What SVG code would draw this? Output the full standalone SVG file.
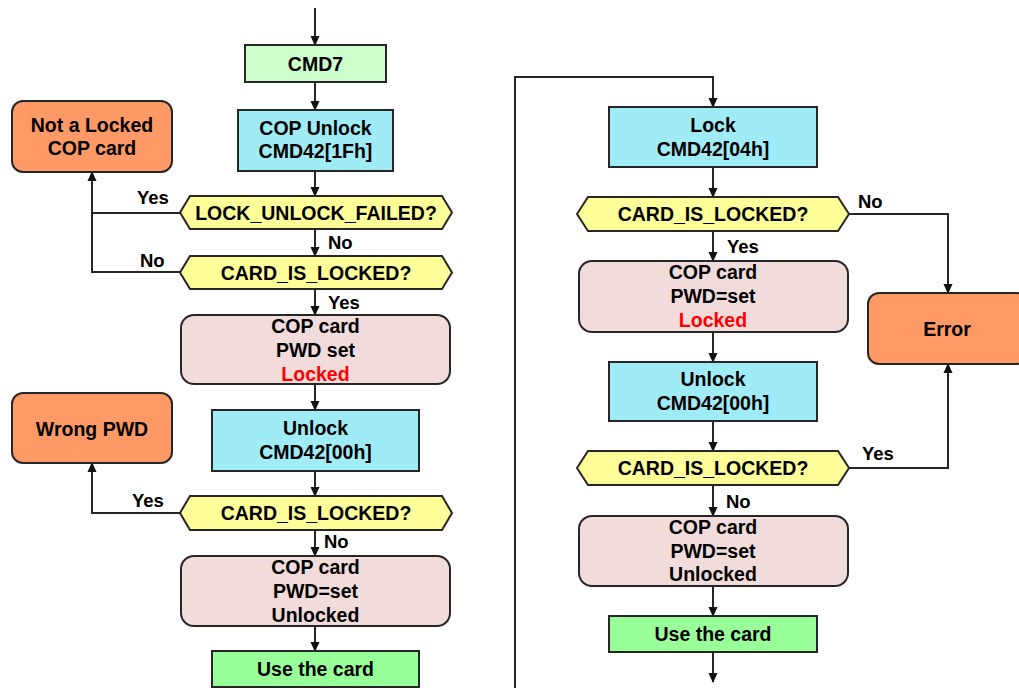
<svg xmlns="http://www.w3.org/2000/svg" width="1019" height="688" viewBox="0 0 1019 688">
<style>
text{font-family:"Liberation Sans",Arial,sans-serif;font-weight:bold;font-size:19.5px;fill:#000;text-anchor:middle}
.lbl{font-size:18.5px;text-anchor:start}
.box{stroke:#262626;stroke-width:2}
.cyan{fill:#a0ecf6}
.pink{fill:#f2dcdb}
.orange{fill:#ff9966}
.yellow{fill:#ffff99}
.green{fill:#99ff99}
.lgreen{fill:#ccffcc}
.red{fill:#ff0000}
.c{fill:none;stroke:#262626;stroke-width:2}
</style>
<defs>
<marker id="ah" markerWidth="10" markerHeight="10" refX="9" refY="5" orient="auto" markerUnits="userSpaceOnUse">
<path d="M0,0.5 L10,5 L0,9.5 Z" fill="#111"/>
</marker>
</defs>
<rect width="1019" height="688" fill="#fff"/>
<g id="connectors">
<path class="c" d="M315,8 V45" marker-end="url(#ah)"/>
<path class="c" d="M315,82 V110" marker-end="url(#ah)"/>
<path class="c" d="M315,171 V196" marker-end="url(#ah)"/>
<path class="c" d="M315,229 V256" marker-end="url(#ah)"/>
<path class="c" d="M315,289 V315" marker-end="url(#ah)"/>
<path class="c" d="M315,384 V410" marker-end="url(#ah)"/>
<path class="c" d="M315,471 V496" marker-end="url(#ah)"/>
<path class="c" d="M315,530 V556" marker-end="url(#ah)"/>
<path class="c" d="M315,626 V651" marker-end="url(#ah)"/>
<path class="c" d="M180,213 H92 V172" marker-end="url(#ah)"/>
<path class="c" d="M180,272 H92 V213"/>
<path class="c" d="M180,513 H92 V463" marker-end="url(#ah)"/>
<path class="c" d="M515,688 V77 H713 V107" marker-end="url(#ah)"/>
<path class="c" d="M713,167 V197" marker-end="url(#ah)"/>
<path class="c" d="M713,231 V261" marker-end="url(#ah)"/>
<path class="c" d="M713,332 V362" marker-end="url(#ah)"/>
<path class="c" d="M713,421 V451" marker-end="url(#ah)"/>
<path class="c" d="M713,485 V516" marker-end="url(#ah)"/>
<path class="c" d="M713,586 V616" marker-end="url(#ah)"/>
<path class="c" d="M713,652 V682" marker-end="url(#ah)"/>
<path class="c" d="M849,214 H948 V293" marker-end="url(#ah)"/>
<path class="c" d="M849,468 H948 V364" marker-end="url(#ah)"/>
<text class="lbl" x="137" y="204">Yes</text>
<text class="lbl" x="328" y="249">No</text>
<text class="lbl" x="140" y="267">No</text>
<text class="lbl" x="328" y="309">Yes</text>
<text class="lbl" x="132" y="507">Yes</text>
<text class="lbl" x="324" y="548">No</text>
<text class="lbl" x="858" y="208">No</text>
<text class="lbl" x="727" y="253">Yes</text>
<text class="lbl" x="862" y="460">Yes</text>
<text class="lbl" x="726" y="508">No</text>
</g>
<g id="cmd7">
<rect class="box lgreen" x="245" y="45" width="141" height="37"/>
<text x="315.5" y="70.5">CMD7</text>
</g>
<g id="cop-unlock">
<rect class="box cyan" x="238" y="110" width="155" height="61"/>
<text x="315.5" y="135">COP Unlock</text>
<text x="315.5" y="158">CMD42[1Fh]</text>
</g>
<g id="not-locked">
<rect class="box orange" x="12" y="101" width="160" height="71" rx="11"/>
<text x="92" y="132">Not a Locked</text>
<text x="92" y="155">COP card</text>
</g>
<g id="dec-failed">
<polygon class="box yellow" points="180,212.5 190,196 442,196 452,212.5 442,229 190,229"/>
<text x="316" y="220">LOCK_UNLOCK_FAILED?</text>
</g>
<g id="dec-locked1">
<polygon class="box yellow" points="180,272.5 190,256 442,256 452,272.5 442,289 190,289"/>
<text x="316" y="279.5">CARD_IS_LOCKED?</text>
</g>
<g id="state-locked1">
<rect class="box pink" x="181" y="315" width="269" height="69" rx="13"/>
<text x="315.5" y="333">COP card</text>
<text x="315.5" y="357">PWD set</text>
<text class="red" x="315.5" y="381">Locked</text>
</g>
<g id="wrong-pwd">
<rect class="box orange" x="12" y="393" width="160" height="70" rx="11"/>
<text x="92" y="436">Wrong PWD</text>
</g>
<g id="unlock1">
<rect class="box cyan" x="212" y="410" width="207" height="61"/>
<text x="315.5" y="435">Unlock</text>
<text x="315.5" y="459">CMD42[00h]</text>
</g>
<g id="dec-locked2">
<polygon class="box yellow" points="180,513 190,496 442,496 452,513 442,530 190,530"/>
<text x="316" y="520">CARD_IS_LOCKED?</text>
</g>
<g id="state-unlocked1">
<rect class="box pink" x="181" y="556" width="269" height="70" rx="13"/>
<text x="315.5" y="574">COP card</text>
<text x="315.5" y="598">PWD=set</text>
<text x="315.5" y="622">Unlocked</text>
</g>
<g id="use-card1">
<rect class="box green" x="212" y="651" width="207" height="36"/>
<text x="315.5" y="676">Use the card</text>
</g>
<g id="lock">
<rect class="box cyan" x="609" y="107" width="208" height="60"/>
<text x="713" y="132">Lock</text>
<text x="713" y="156">CMD42[04h]</text>
</g>
<g id="dec-locked3">
<polygon class="box yellow" points="577,214 588,197 838,197 849,214 838,231 588,231"/>
<text x="713" y="221">CARD_IS_LOCKED?</text>
</g>
<g id="state-locked2">
<rect class="box pink" x="579" y="261" width="269" height="71" rx="13"/>
<text x="713" y="279">COP card</text>
<text x="713" y="303">PWD=set</text>
<text class="red" x="713" y="327">Locked</text>
</g>
<g id="error">
<rect class="box orange" x="868" y="293" width="160" height="71" rx="11"/>
<text x="947" y="336">Error</text>
</g>
<g id="unlock2">
<rect class="box cyan" x="609" y="362" width="208" height="59"/>
<text x="713" y="386">Unlock</text>
<text x="713" y="410">CMD42[00h]</text>
</g>
<g id="dec-locked4">
<polygon class="box yellow" points="577,468 588,451 838,451 849,468 838,485 588,485"/>
<text x="713" y="475">CARD_IS_LOCKED?</text>
</g>
<g id="state-unlocked2">
<rect class="box pink" x="579" y="516" width="269" height="70" rx="13"/>
<text x="713" y="534">COP card</text>
<text x="713" y="558">PWD=set</text>
<text x="713" y="581">Unlocked</text>
</g>
<g id="use-card2">
<rect class="box green" x="609" y="616" width="208" height="36"/>
<text x="713" y="641">Use the card</text>
</g>
</svg>
